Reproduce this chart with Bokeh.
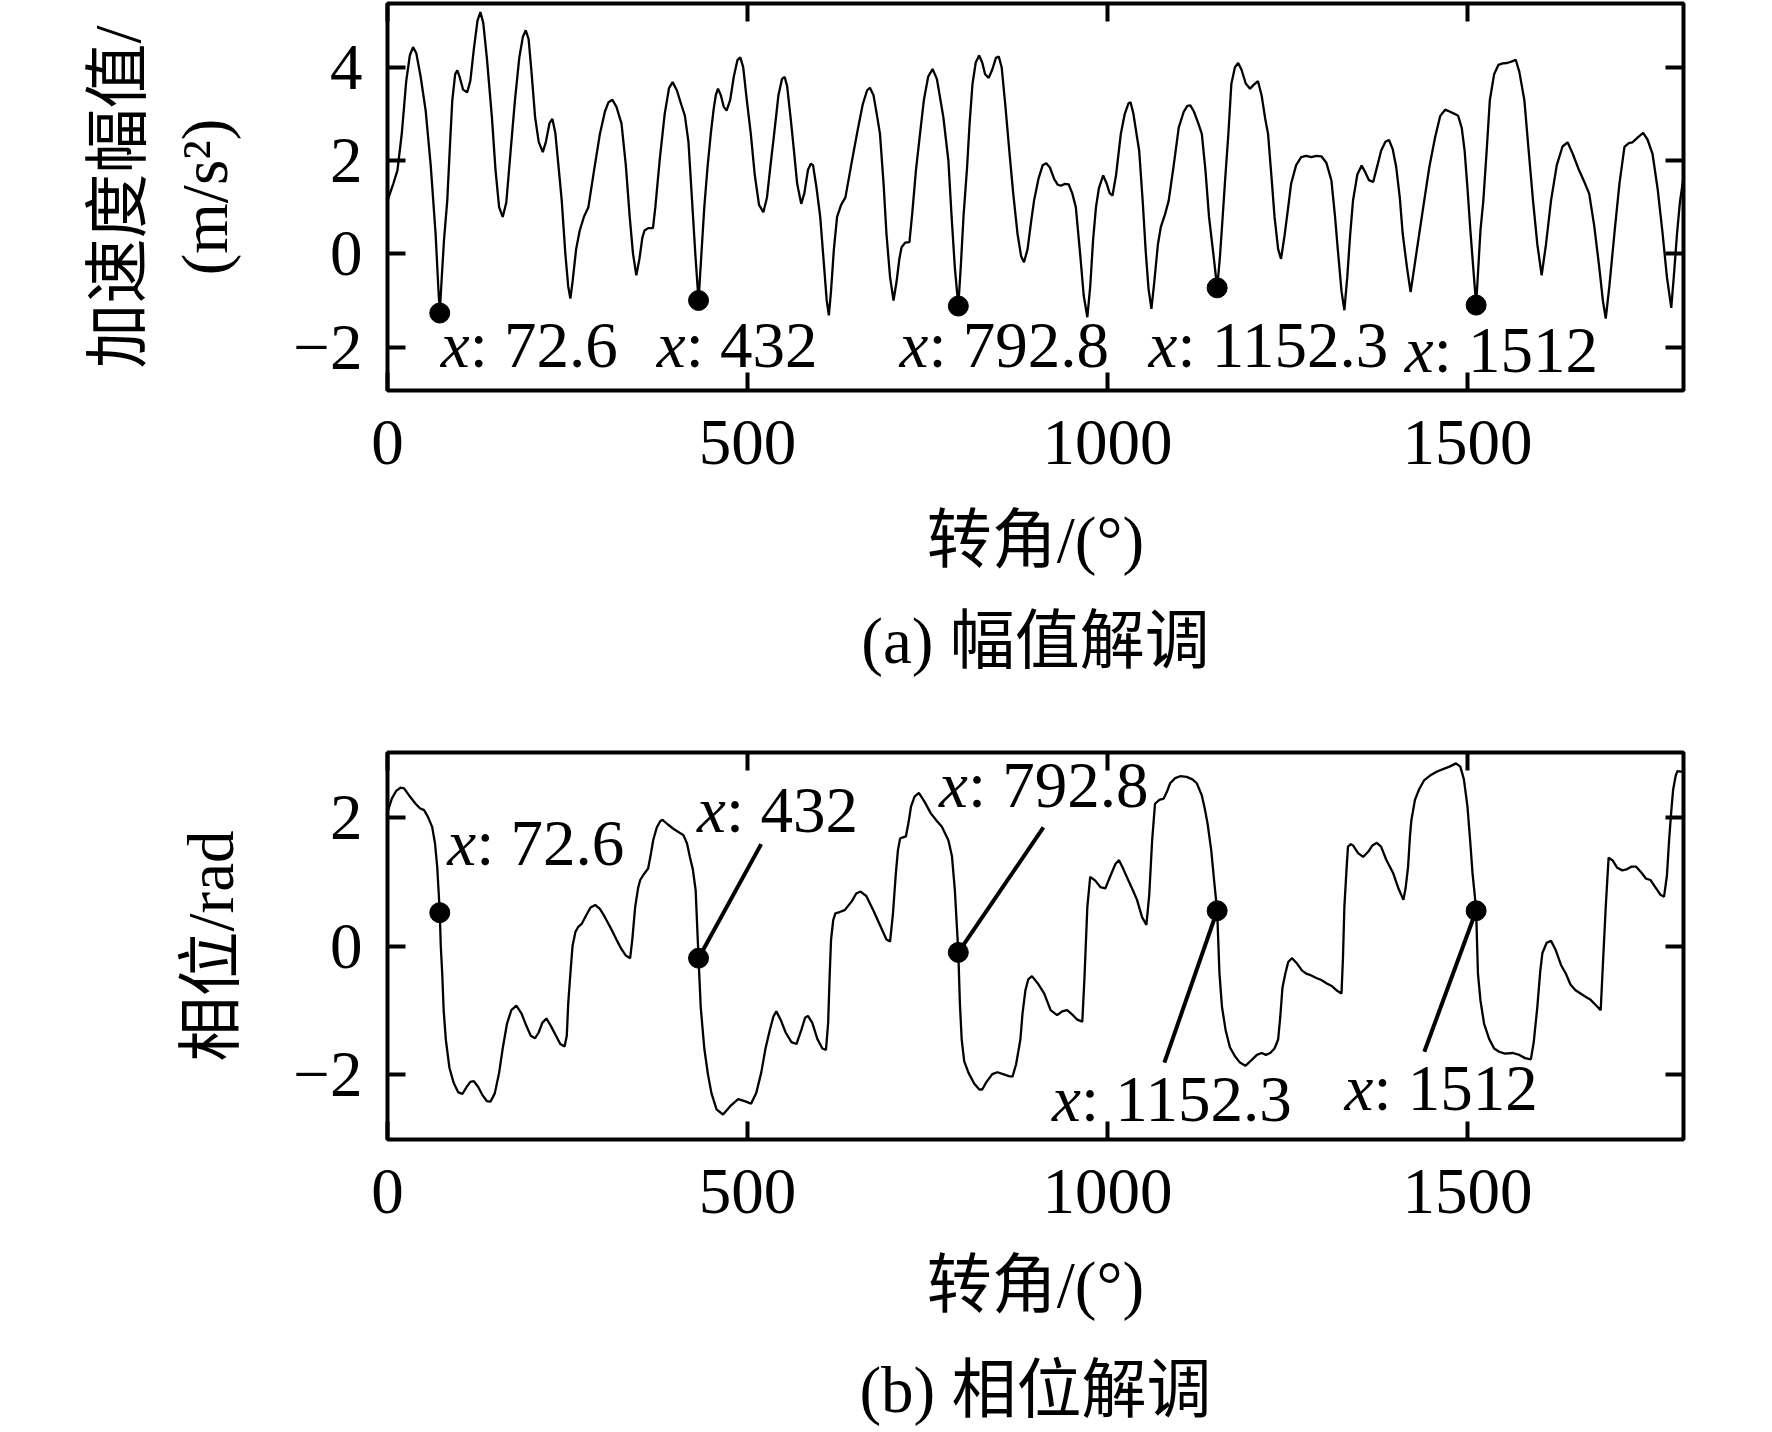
import math
from bokeh.plotting import figure
from bokeh.models import Range1d, FixedTicker, LinearAxis, Title, ColumnDataSource
from bokeh.layouts import column
from bokeh.core.properties import value
from bokeh.embed import file_html
from bokeh.resources import INLINE

# ---------------- data ----------------
amp_x = [0, 8, 13.8, 20, 26, 31, 35.5, 40, 46, 53, 60, 66.8, 70.5, 72.6, 75, 78.5, 83, 87, 90, 94, 97, 100, 105, 110.6,
         115, 120, 125, 129, 133, 138, 145, 150, 155, 160, 165, 171, 177, 183, 188, 192, 196, 200, 205, 210, 215.7, 220,
         225, 229, 233, 238, 242, 247, 251, 254, 257, 262, 267, 273, 279, 287, 295, 302, 307, 312.4, 318, 325, 331,
         336.4, 341, 345.6, 350, 354, 357, 362, 368.7, 372, 378, 385, 391, 396, 402, 408, 413, 418, 423, 427.5, 432,
         436, 440, 444.5, 449, 453, 456, 459, 463, 467, 471, 476, 481, 486, 490, 494, 499, 504.6, 510, 516, 522, 527,
         532, 537, 543, 548, 551.6, 555, 560, 564.5, 569, 574.6, 579, 584, 588, 591, 596, 601, 606, 610, 613, 616, 620,
         624.4, 630, 636, 644, 652, 660, 666, 670, 675, 680, 684, 689, 693, 698, 702.8, 707, 711, 714, 719, 724.9, 729,
         734, 739.6, 745, 751, 757, 763, 768, 772, 779, 783.5, 788, 792.8, 796.5, 800, 805, 808.5, 812.5, 817, 821.7,
         826, 830, 835, 840, 845, 849, 853, 858, 863.6, 869, 875, 880, 884, 889, 894, 898, 904, 910, 915, 920, 926, 931,
         935, 941, 946, 951, 956, 962, 967, 972, 976, 980, 984, 988, 994, 999, 1003, 1007, 1012, 1018.5, 1024, 1029,
         1032, 1036, 1040, 1044, 1049, 1053, 1057, 1061, 1065, 1070, 1074, 1080, 1085, 1092, 1099, 1106, 1111, 1115,
         1120, 1126, 1131, 1136, 1141, 1147, 1152.3, 1156, 1160, 1163, 1168, 1172, 1177, 1181.5, 1186, 1192, 1198,
         1203, 1209, 1214, 1219, 1223, 1228, 1232, 1237, 1241, 1246, 1251, 1255, 1262, 1269, 1276, 1283, 1290, 1297,
         1304, 1311, 1316, 1320, 1325, 1329, 1333, 1337, 1341, 1347, 1353, 1358, 1363, 1369, 1375, 1380, 1386, 1391,
         1396, 1401, 1406, 1410, 1416, 1421, 1426, 1433, 1440, 1447, 1455, 1462, 1469, 1475, 1482, 1487, 1492, 1496,
         1500, 1504, 1508, 1512, 1515, 1518, 1522, 1527, 1531, 1537, 1543, 1549, 1555, 1561, 1567, 1572, 1579, 1585,
         1591, 1597, 1603, 1609, 1616, 1624, 1632, 1639, 1646, 1655, 1662, 1669, 1676, 1683, 1688, 1692, 1697, 1704,
         1711, 1718, 1724, 1729, 1737, 1744, 1750, 1757, 1764, 1771, 1777, 1783, 1787, 1791, 1795, 1800]
amp_y = [1.14, 1.5, 1.79, 2.6, 3.7, 4.25, 4.43, 4.3, 3.8, 3.07, 1.9, 0.43, -0.7, -1.27, -0.6, 0.3, 1.14, 2.4, 3.29, 3.85,
         3.93, 3.8, 3.52, 3.46, 3.7, 4.4, 5.0, 5.18, 4.95, 4.2, 2.93, 1.8, 1.0, 0.79, 1.1, 2.2, 3.29, 4.2, 4.65, 4.79,
         4.6, 3.9, 2.93, 2.4, 2.18, 2.4, 2.8, 2.89, 2.6, 1.8, 1.14, 0.0, -0.7, -0.96, -0.6, 0.1, 0.5, 0.8, 1.0, 1.8,
         2.57, 3.05, 3.25, 3.3, 3.15, 2.79, 1.9, 0.79, 0.0, -0.46, -0.1, 0.35, 0.5, 0.55, 0.55, 1.0, 2.0, 3.0, 3.55,
         3.68, 3.5, 3.2, 2.96, 2.4, 1.14, 0.0, -1.0, 0.0, 1.0, 1.86, 2.57, 3.1, 3.4, 3.54, 3.4, 3.15, 3.07, 3.3, 3.8,
         4.15, 4.21, 4.0, 3.3, 2.57, 1.7, 1.05, 0.89, 1.2, 1.9, 2.57, 3.4, 3.75, 3.79, 3.6, 2.9, 2.21, 1.5, 1.07, 1.3,
         1.8, 1.93, 1.9, 1.4, 0.79, -0.2, -1.0, -1.32, -0.8, 0.1, 0.79, 1.05, 1.21, 1.9, 2.57, 3.2, 3.5, 3.56, 3.4,
         2.95, 2.57, 1.5, 0.43, -0.5, -1.0, -0.6, -0.1, 0.14, 0.24, 0.25, 0.9, 1.8, 2.57, 3.3, 3.8, 3.96, 3.75, 3.3,
         2.93, 2.0, 0.79, -0.3, -1.12, -0.2, 0.8, 1.86, 2.8, 3.64, 4.1, 4.25, 4.1, 3.85, 3.77, 3.95, 4.2, 4.23, 4.0,
         3.2, 2.21, 1.3, 0.43, -0.05, -0.18, 0.1, 0.7, 1.14, 1.6, 1.9, 1.94, 1.85, 1.6, 1.48, 1.46, 1.5, 1.49, 1.3,
         1.0, 0.0, -0.9, -1.36, -0.7, 0.3, 1.0, 1.4, 1.68, 1.5, 1.3, 1.25, 1.7, 2.57, 3.0, 3.22, 3.25, 3.0, 2.6, 2.21,
         1.1, 0.07, -0.75, -1.18, -0.6, 0.2, 0.57, 0.85, 1.14, 1.9, 2.71, 3.05, 3.17, 3.18, 3.05, 2.8, 2.57, 1.8, 0.79,
         0.0, -0.73, -0.1, 0.8, 1.5, 2.6, 3.64, 4.0, 4.09, 3.95, 3.65, 3.54, 3.62, 3.7, 3.4, 2.9, 2.57, 1.6, 0.79, 0.1,
         -0.11, 0.4, 1.0, 1.5, 1.9, 2.07, 2.1, 2.07, 2.1, 2.09, 1.95, 1.57, 0.8, 0.07, -0.8, -1.21, -0.5, 0.4, 1.14,
         1.7, 1.89, 1.75, 1.58, 1.54, 1.9, 2.21, 2.4, 2.44, 2.25, 1.86, 1.2, 0.43, -0.3, -0.82, -0.3, 0.43, 1.15, 1.86,
         2.5, 2.95, 3.09, 3.05, 3.0, 2.96, 2.7, 2.21, 1.4, 0.5, -0.3, -1.1, -0.3, 0.5, 1.14, 2.3, 3.29, 3.85, 4.05,
         4.08, 4.09, 4.12, 4.16, 3.9, 3.29, 2.2, 1.14, 0.2, -0.46, 0.2, 1.14, 1.9, 2.3, 2.39, 2.15, 1.79, 1.55, 1.29,
         0.6, -0.29, -1.0, -1.39, -0.7, 0.43, 1.5, 2.29, 2.37, 2.39, 2.5, 2.59, 2.45, 2.14, 1.4, 0.43, -0.5, -1.16,
         -0.4, 0.43, 1.1, 1.65]

pha_x = [0, 6, 12, 18, 23, 30, 39, 45, 50.8, 56, 62, 66, 69, 71, 72.6, 74, 76, 78, 81, 86, 92, 98, 104, 110, 115, 120,
         126, 132, 138, 143, 149, 155, 160, 166, 172, 179, 186, 193, 199, 205, 210, 215, 220.7, 227, 234, 240, 246,
         249, 251, 254, 257, 261, 265, 270, 276, 282, 288.5, 295, 302, 310, 318, 325, 331, 337, 340, 344, 348, 351,
         356, 362, 366, 369, 374, 379, 382, 389, 397, 404, 411, 416, 420, 424, 428, 432, 435, 440, 445, 450, 457, 466,
         476, 487, 496, 505, 512, 519, 525, 531, 536, 540, 546, 553, 561, 568, 575, 580, 584, 590, 597, 604, 609, 612,
         614, 616, 619, 622, 628, 635, 645, 651, 657, 665, 675, 685, 693, 698, 702, 706, 709, 712, 720, 724, 727, 732,
         738, 746, 754.6, 763, 770, 779, 784, 788, 792.8, 795, 797.5, 801, 807, 815, 822, 826, 832, 840, 847, 855, 863,
         868, 873, 879, 882, 886, 890, 895, 903, 912, 921, 930, 937, 944, 952, 958, 965, 968, 972, 976, 983, 990, 997,
         1005, 1011, 1016, 1022, 1030, 1036, 1041, 1048, 1054, 1058, 1062, 1066, 1072, 1078, 1083, 1087, 1094, 1101,
         1110, 1118, 1124, 1131, 1135, 1139, 1144, 1148, 1152.3, 1155.5, 1159, 1164, 1170, 1177, 1184, 1191.5, 1200,
         1207.5, 1214, 1220, 1226, 1232, 1237, 1240, 1243, 1247, 1251, 1256, 1263, 1270, 1276, 1281, 1290, 1297, 1304,
         1312, 1319, 1325, 1327, 1329, 1332, 1334, 1338, 1341, 1348, 1355, 1362, 1368, 1374, 1380, 1387, 1397, 1404,
         1411, 1414, 1417.5, 1420, 1422, 1427, 1433, 1440, 1448, 1457, 1466, 1475, 1484, 1490, 1495, 1500, 1504, 1507,
         1510, 1512, 1514.5, 1518, 1523, 1530, 1537, 1544, 1552, 1563, 1572, 1580, 1588, 1592, 1597, 1601, 1604, 1610,
         1616, 1622, 1630, 1636.5, 1643, 1650, 1658, 1665, 1671, 1678, 1685, 1688, 1692, 1696, 1702, 1708, 1715, 1722,
         1728, 1734, 1742, 1748, 1754, 1762, 1768, 1773, 1777, 1780, 1783, 1785.5, 1789, 1791.5, 1796, 1800]
pha_y = [2.09, 2.3, 2.42, 2.47, 2.46, 2.35, 2.22, 2.15, 2.12, 2.02, 1.86, 1.6, 1.24, 0.85, 0.52, 0.0, -0.43, -1.0,
         -1.46, -1.9, -2.14, -2.28, -2.31, -2.2, -2.12, -2.11, -2.2, -2.33, -2.42, -2.43, -2.3, -1.98, -1.6, -1.21,
         -1.0, -0.93, -1.05, -1.25, -1.4, -1.44, -1.35, -1.2, -1.13, -1.25, -1.4, -1.53, -1.57, -1.4, -0.9, -0.43, 0.0,
         0.22, 0.3, 0.35, 0.48, 0.6, 0.64, 0.58, 0.45, 0.28, 0.1, -0.05, -0.15, -0.19, 0.1, 0.61, 0.9, 1.03, 1.12,
         1.21, 1.45, 1.65, 1.85, 1.95, 1.97, 1.9, 1.83, 1.78, 1.73, 1.6, 1.39, 1.2, 0.87, -0.19, -0.95, -1.6, -2.0,
         -2.3, -2.55, -2.63, -2.5, -2.39, -2.42, -2.46, -2.3, -1.98, -1.6, -1.31, -1.1, -1.02, -1.15, -1.35, -1.5,
         -1.53, -1.3, -1.12, -1.09, -1.2, -1.45, -1.6, -1.62, -1.2, -0.5, 0.09, 0.4, 0.51, 0.53, 0.56, 0.7, 0.82, 0.85,
         0.78, 0.55, 0.3, 0.1, 0.07, 0.5, 1.13, 1.5, 1.68, 1.71, 1.95, 2.17, 2.33, 2.39, 2.25, 2.07, 1.95, 1.86, 1.65,
         1.4, 0.87, -0.1, -0.9, -1.46, -1.8, -1.98, -2.15, -2.24, -2.24, -2.12, -2.0, -1.97, -2.0, -2.03, -2.04, -1.85,
         -1.46, -1.05, -0.69, -0.52, -0.47, -0.58, -0.74, -1.0, -1.08, -1.02, -1.0, -1.08, -1.15, -1.18, -0.5, 0.61,
         1.08, 1.02, 0.92, 0.9, 1.12, 1.28, 1.34, 1.2, 1.0, 0.85, 0.72, 0.45, 0.33, 0.8, 1.65, 2.22, 2.28, 2.3, 2.42,
         2.54, 2.62, 2.65, 2.64, 2.6, 2.54, 2.35, 2.15, 1.91, 1.5, 1.03, 0.55, -0.43, -0.95, -1.31, -1.58, -1.72,
         -1.82, -1.87, -1.78, -1.7, -1.67, -1.7, -1.67, -1.6, -1.46, -1.1, -0.65, -0.43, -0.25, -0.19, -0.27, -0.38,
         -0.43, -0.45, -0.5, -0.53, -0.58, -0.63, -0.7, -0.74, -0.2, 0.61, 1.2, 1.55, 1.59, 1.57, 1.45, 1.39, 1.47,
         1.57, 1.61, 1.55, 1.35, 1.13, 0.9, 0.72, 0.9, 1.24, 1.7, 1.96, 2.28, 2.45, 2.59, 2.66, 2.72, 2.76, 2.8, 2.85,
         2.8, 2.6, 2.17, 1.6, 1.13, 0.8, 0.55, -0.43, -0.85, -1.21, -1.45, -1.6, -1.65, -1.68, -1.67, -1.7, -1.75,
         -1.77, -1.5, -0.95, -0.4, -0.11, 0.05, 0.08, -0.05, -0.3, -0.43, -0.6, -0.69, -0.75, -0.8, -0.84, -0.92, -1.0,
         -0.3, 0.61, 1.38, 1.33, 1.22, 1.18, 1.2, 1.24, 1.24, 1.14, 1.05, 1.03, 0.9, 0.8, 0.77, 1.1, 1.65, 2.1, 2.43,
         2.65, 2.73, 2.72, 2.72]

cursor_x = [72.6, 432, 792.8, 1152.3, 1512]
cursor_text = ["72.6", "432", "792.8", "1152.3", "1512"]
amp_cursor_y = [-1.27, -1.0, -1.12, -0.73, -1.1]
pha_cursor_y = [0.52, -0.19, -0.1, 0.55, 0.55]

amp_text_x = [73.9, 374, 711, 1057, 1412.7]
amp_text_y = [-1.95, -1.95, -1.95, -1.95, -2.06]
pha_text_x = [83, 430, 766, 923, 1329]
pha_text_y = [1.6, 2.12, 2.52, -2.39, -2.22]
pha_lead_x0 = [432, 792.8, 1152.3, 1512]
pha_lead_y0 = [-0.19, -0.1, 0.55, 0.55]
pha_lead_x1 = [519, 911, 1079, 1440]
pha_lead_y1 = [1.59, 1.85, -1.82, -1.65]

x_ticks = [0, 500, 1000, 1500]
amp_ticks = [-2, 0, 2, 4]
pha_ticks = [-2, 0, 2]

x_title = "转角/(°)"
amp_ytitle = ["加速度幅值/", "(m/s²)"]
pha_ytitle = "相位/rad"
captions = ["(a) 幅值解调", "(b) 相位解调"]

FONT = "Liberation Serif, Noto Sans CJK SC"
FS = "65px"
W = 1756
LEFT = 387
RIGHT = 73


def style_axis(ax, ticks, show_labels=True):
    ax.ticker = FixedTicker(ticks=ticks)
    ax.axis_line_color = None
    ax.major_tick_in = 18
    ax.major_tick_out = 0
    ax.major_tick_line_width = 4
    ax.major_tick_line_color = "black"
    ax.minor_tick_line_color = None
    ax.major_label_text_font = "Liberation Serif"
    ax.major_label_text_color = "black"
    if show_labels:
        ax.major_label_text_font_size = FS
        ax.major_label_standoff = 30
        ax.major_label_overrides = {-2: "\u22122"}
    else:
        ax.major_label_text_font_size = "1px"
        ax.major_label_standoff = 0
        ax.major_label_overrides = {t: "" for t in ticks}


def make_fig(h, top, fh, yr, yticks, ylabel, ylabel_standoff, xlabel_standoff, extra_ylabel=None):
    p = figure(width=W, height=h, x_range=Range1d(0, 1800), y_range=Range1d(*yr),
               output_backend="svg", toolbar_location=None,
               min_border_left=LEFT, min_border_right=RIGHT,
               min_border_top=top, min_border_bottom=h - top - fh)
    p.background_fill_color = "white"
    p.border_fill_color = "white"
    p.outline_line_color = "black"
    p.outline_line_width = 4
    p.xgrid.visible = False
    p.ygrid.visible = False
    xa = p.xaxis[0]
    ya = p.yaxis[0]
    style_axis(xa, x_ticks)
    style_axis(ya, yticks)
    ya.major_label_standoff = 25
    for ax in (xa, ya):
        ax.axis_label_text_font = FONT
        ax.axis_label_text_font_size = FS
        ax.axis_label_text_font_style = "normal"
        ax.axis_label_text_color = "black"
    xa.axis_label = x_title
    xa.axis_label_standoff = xlabel_standoff
    ya.axis_label = ylabel
    ya.axis_label_standoff = ylabel_standoff
    ta = LinearAxis()
    style_axis(ta, x_ticks, False)
    p.add_layout(ta, "above")
    ra = LinearAxis()
    style_axis(ra, yticks, False)
    p.add_layout(ra, "right")
    if extra_ylabel:
        p.add_layout(Title(text=extra_ylabel, align="center", text_font=FONT, text_font_size=FS,
                           text_font_style="normal", text_color="black", standoff=26), "left")
    return p


def caption_fig(h, text, ypos):
    p = figure(width=W, height=h, x_range=Range1d(0, 1800), y_range=Range1d(0, 1),
               output_backend="svg", toolbar_location=None,
               min_border_left=LEFT, min_border_right=RIGHT, min_border_top=0, min_border_bottom=0,
               x_axis_type=None, y_axis_type=None)
    p.outline_line_color = None
    p.background_fill_color = "white"
    p.border_fill_color = "white"
    p.xgrid.visible = False
    p.ygrid.visible = False
    p.text(x=[900], y=[ypos], text=[text], text_font=value(FONT), text_font_size=FS,
           text_color="black", text_align="center", text_baseline="middle")
    return p


def add_cursor_texts(p, tx, ty):
    src = ColumnDataSource(dict(x=tx, y=ty, xs=["x"] * len(tx),
                                rest=[": " + t for t in cursor_text]))
    p.text(x="x", y="y", text="xs", source=src, text_font=value("Liberation Serif"),
           text_font_style="italic", text_font_size=FS, text_color="black",
           text_baseline="alphabetic", text_align="left")
    p.text(x="x", y="y", text="rest", source=src, text_font=value("Liberation Serif"),
           text_font_size=FS, text_color="black", text_baseline="alphabetic",
           text_align="left", x_offset=29)


# ---------------- (a) amplitude ----------------
pa = make_fig(605, 3, 387, (-2.93, 5.365), amp_ticks, amp_ytitle[1], 49, 37, extra_ylabel=amp_ytitle[0])
pa.line(amp_x, amp_y, line_color="black", line_width=2.3)
pa.scatter(cursor_x, amp_cursor_y, size=20, color="black")
add_cursor_texts(pa, amp_text_x, amp_text_y)
cap_a = caption_fig(80, captions[0], 0.56)

# ---------------- (b) phase ----------------
pb = make_fig(667, 67, 387, (-3.02, 3.02), pha_ticks, pha_ytitle, 43, 33)
pb.line(pha_x, pha_y, line_color="black", line_width=2.3)
pb.segment(x0=pha_lead_x0, y0=pha_lead_y0, x1=pha_lead_x1, y1=pha_lead_y1,
           line_color="black", line_width=4)
pb.scatter(cursor_x, pha_cursor_y, size=20, color="black")
add_cursor_texts(pb, pha_text_x, pha_text_y)
cap_b = caption_fig(80, captions[1], 0.53)

layout = column(pa, cap_a, pb, cap_b, spacing=0)
open("out.html", "w").write(file_html(layout, INLINE))
